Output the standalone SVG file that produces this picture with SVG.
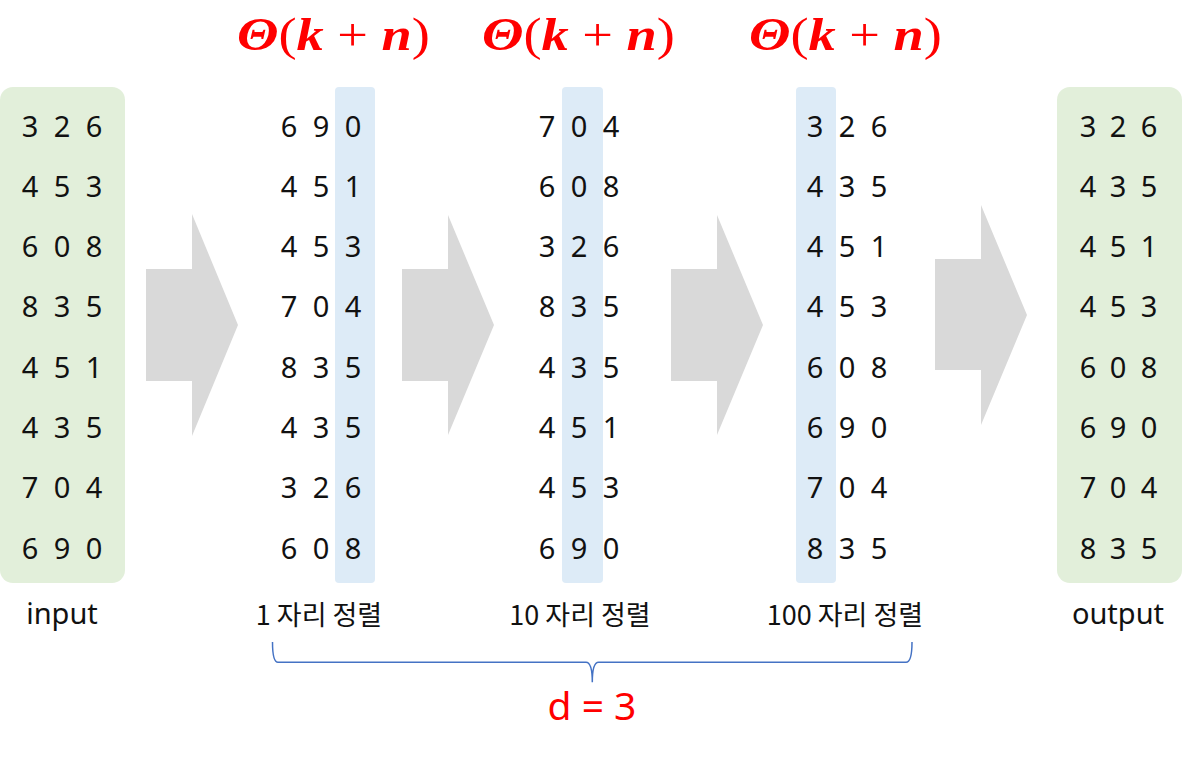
<svg xmlns="http://www.w3.org/2000/svg" width="1189" height="759" viewBox="0 0 1189 759">
<style>
.bg{fill:#ffffff}
.green{fill:#E2EFDA}
.blue{fill:#DDEBF7}
.arrow{fill:#D9D9D9}
.d{font-family:"Noto Sans","DejaVu Sans",sans-serif;font-size:29px;fill:#111;text-anchor:middle}
.lbl{font-family:"Noto Sans CJK KR","Noto Sans",sans-serif;font-size:27px;fill:#111;text-anchor:middle}
.lbl2{font-family:"Noto Sans","Noto Sans CJK KR",sans-serif;font-size:29px;fill:#111;text-anchor:middle}
.theta{font-family:"Liberation Serif","DejaVu Serif",serif;font-size:46px;fill:#FF0000}
.b{font-weight:bold;font-style:italic}
.brace{fill:none;stroke:#4472C4;stroke-width:1.5}
.dlbl{font-family:"Noto Sans","DejaVu Sans",sans-serif;font-size:39px;fill:#FF0000;text-anchor:middle}
</style>
<rect class="bg" x="0" y="0" width="1189" height="759"/>

<g id="complexity">
<text class="theta" x="237" y="50" textLength="193" lengthAdjust="spacingAndGlyphs"><tspan class="b">Θ</tspan>(<tspan class="b">k</tspan> + <tspan class="b">n</tspan>)</text>
<text class="theta" x="482" y="50" textLength="193" lengthAdjust="spacingAndGlyphs"><tspan class="b">Θ</tspan>(<tspan class="b">k</tspan> + <tspan class="b">n</tspan>)</text>
<text class="theta" x="749" y="50" textLength="193" lengthAdjust="spacingAndGlyphs"><tspan class="b">Θ</tspan>(<tspan class="b">k</tspan> + <tspan class="b">n</tspan>)</text>
</g>

<g id="input">
<rect class="green" x="0" y="87" width="125" height="496" rx="13"/>
<text class="d" x="30 62 94" y="136.5">326</text>
<text class="d" x="30 62 94" y="196.8">453</text>
<text class="d" x="30 62 94" y="257.1">608</text>
<text class="d" x="30 62 94" y="317.4">835</text>
<text class="d" x="30 62 94" y="377.7">451</text>
<text class="d" x="30 62 94" y="438">435</text>
<text class="d" x="30 62 94" y="498.3">704</text>
<text class="d" x="30 62 94" y="558.6">690</text>
<text class="lbl2" x="62" y="624">input</text>
</g>

<g id="pass1">
<rect class="blue" x="335" y="87" width="40" height="496" rx="4"/>
<text class="d" x="289 321 353" y="136.5">690</text>
<text class="d" x="289 321 353" y="196.8">451</text>
<text class="d" x="289 321 353" y="257.1">453</text>
<text class="d" x="289 321 353" y="317.4">704</text>
<text class="d" x="289 321 353" y="377.7">835</text>
<text class="d" x="289 321 353" y="438">435</text>
<text class="d" x="289 321 353" y="498.3">326</text>
<text class="d" x="289 321 353" y="558.6">608</text>
<text class="lbl" x="319" y="625">1 자리 정렬</text>
</g>

<g id="pass2">
<rect class="blue" x="562" y="87" width="41" height="496" rx="4"/>
<text class="d" x="547 579 611" y="136.5">704</text>
<text class="d" x="547 579 611" y="196.8">608</text>
<text class="d" x="547 579 611" y="257.1">326</text>
<text class="d" x="547 579 611" y="317.4">835</text>
<text class="d" x="547 579 611" y="377.7">435</text>
<text class="d" x="547 579 611" y="438">451</text>
<text class="d" x="547 579 611" y="498.3">453</text>
<text class="d" x="547 579 611" y="558.6">690</text>
<text class="lbl" x="580" y="625">10 자리 정렬</text>
</g>

<g id="pass3">
<rect class="blue" x="796" y="87" width="40" height="496" rx="4"/>
<text class="d" x="815 847 879" y="136.5">326</text>
<text class="d" x="815 847 879" y="196.8">435</text>
<text class="d" x="815 847 879" y="257.1">451</text>
<text class="d" x="815 847 879" y="317.4">453</text>
<text class="d" x="815 847 879" y="377.7">608</text>
<text class="d" x="815 847 879" y="438">690</text>
<text class="d" x="815 847 879" y="498.3">704</text>
<text class="d" x="815 847 879" y="558.6">835</text>
<text class="lbl" x="845" y="625">100 자리 정렬</text>
</g>

<g id="output">
<rect class="green" x="1057" y="87" width="125" height="496" rx="13"/>
<text class="d" x="1088 1118 1149" y="136.5">326</text>
<text class="d" x="1088 1118 1149" y="196.8">435</text>
<text class="d" x="1088 1118 1149" y="257.1">451</text>
<text class="d" x="1088 1118 1149" y="317.4">453</text>
<text class="d" x="1088 1118 1149" y="377.7">608</text>
<text class="d" x="1088 1118 1149" y="438">690</text>
<text class="d" x="1088 1118 1149" y="498.3">704</text>
<text class="d" x="1088 1118 1149" y="558.6">835</text>
<text class="lbl2" x="1118" y="624">output</text>
</g>

<g id="connectors">
<polygon class="arrow" points="146,269 192,269 192,214 238,325 192,436 192,381 146,381"/>
<polygon class="arrow" points="402,269 448,269 448,215 494,325 448,435 448,381 402,381"/>
<polygon class="arrow" points="671,269 717,269 717,215 763,325 717,435 717,381 671,381"/>
<polygon class="arrow" points="935,259 981,259 981,205 1027,315 981,425 981,370 935,370"/>
<path class="brace" d="M272.5,642 Q272.5,662.3 278,662.3 L586,662.3 Q592.3,662.3 592.3,682.3 Q592.3,662.3 598.6,662.3 L906,662.3 Q912,662.3 912,642"/>
</g>

<g id="depth">
<text class="dlbl" x="592" y="720">d = 3</text>
</g>
</svg>
